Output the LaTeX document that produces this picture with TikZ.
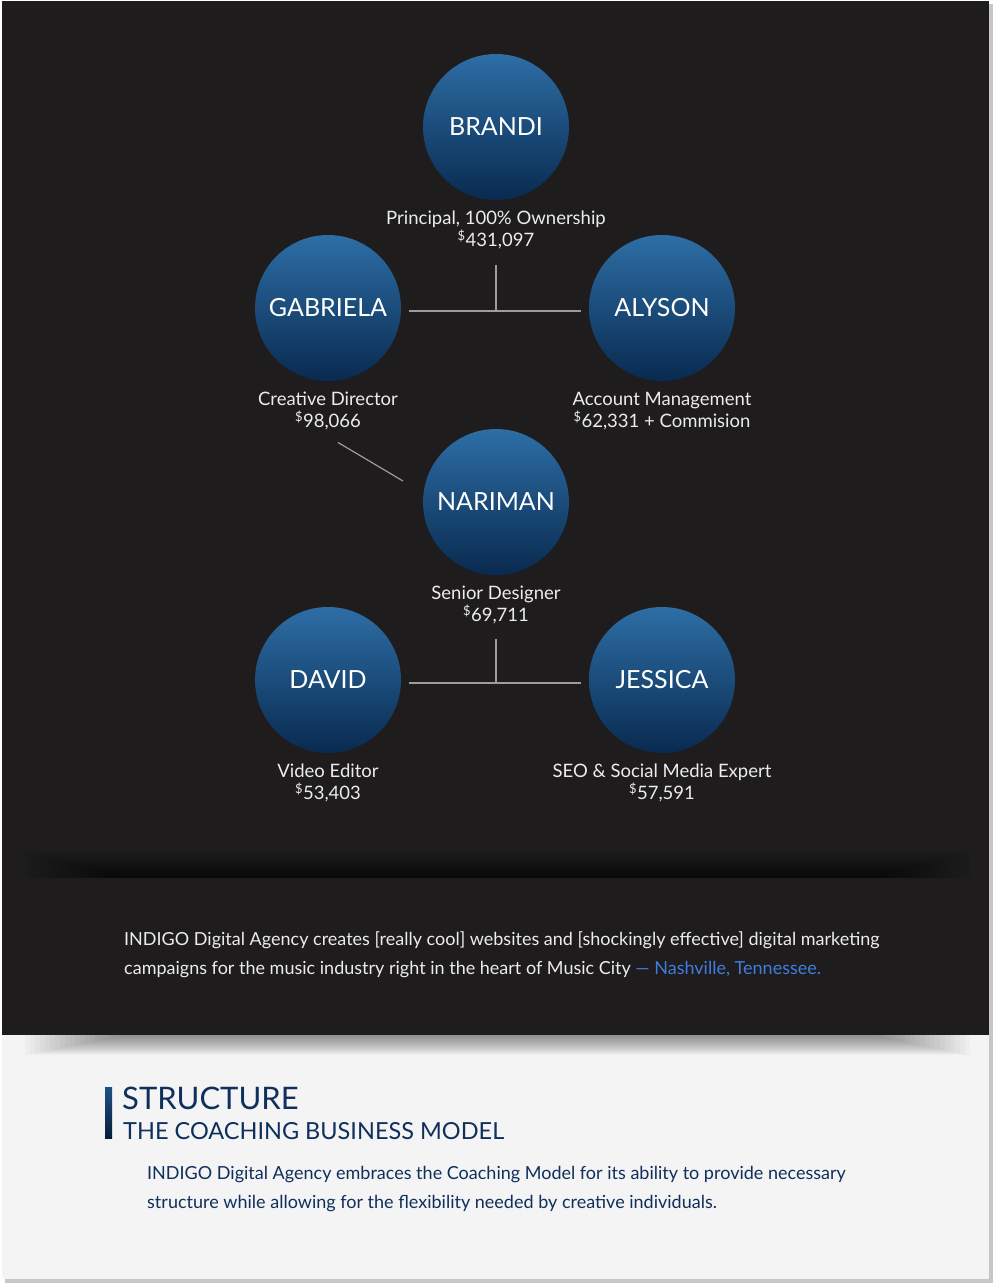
\documentclass[tikz,border=0pt]{standalone}
\usepackage{fontspec}
\setmainfont{Lato}
\usepackage{xcolor}
\usepackage{tikz}
\usetikzlibrary{positioning, calc, shadings}
\definecolor{IndigoDark}{HTML}{1E1C1D}
\definecolor{IndigoTop}{HTML}{2D6EA5}
\definecolor{IndigoMid}{HTML}{1F5B91}
\definecolor{IndigoBottom}{HTML}{092A50}
\definecolor{IndigoNavy}{HTML}{0F2F5C}
\definecolor{IndigoLink}{HTML}{3F7EE0}
\definecolor{IndigoPaper}{HTML}{F4F4F4}
\definecolor{IndigoLine}{HTML}{9C9C9C}
\definecolor{IndigoText}{HTML}{ECECEC}

\begin{document}
\begin{tikzpicture}[x=1pt, y=-1pt, every node/.style={font=\fontsize{18.5}{22}\selectfont}]
      \tikzset{
        person/.style={circle, on grid, minimum size=146pt, inner sep=0pt, outer sep=0pt, top color=IndigoTop, middle color=IndigoMid, bottom color=IndigoBottom, text=white, font=\fontsize{25}{25}\selectfont},
        role/.style={align=center, inner sep=0pt, text=IndigoText},
        link/.style={draw=IndigoLine, line width=1.2pt},
        para/.style={align=left, inner sep=0pt, anchor=north west}
      }
      \newcommand{\pay}[1]{\textsuperscript{\$}#1}

      % Page
      \useasboundingbox (0,0) rectangle (995,1285);
      \fill[white] (0,0) rectangle (995,1285);
      \fill[black!22] (5,4) rectangle (993,1283);
      \fill[IndigoPaper] (2,1) rectangle (989,1279);
      \fill[IndigoDark] (2,1) rectangle (989,1035);
      % soft shadows
      \foreach \i in {0,...,19}
        \fill[black, opacity=0.035] (25+\i*5, 852+\i*1.3) rectangle (970-\i*5, 878);
      \foreach \i in {0,...,19}
        \fill[black, opacity=0.022] (25+\i*5, 1035) rectangle (970-\i*5, 1055-\i*1);

      % Nodes
      \node[person] (brandi) at (496,127) {BRANDI};
      \node[person, below left=181pt and 168pt of brandi] (gabriela) {GABRIELA};
      \node[person, right=334pt of gabriela] (alyson) {ALYSON};
      \node[person, below=375pt of brandi] (nariman) {NARIMAN};
      \node[person, below left=178pt and 168pt of nariman] (david) {DAVID};
      \node[person, right=334pt of david] (jessica) {JESSICA};

      \node[role, below=11pt of brandi] (brandi-role) {Principal, 100\% Ownership\\\pay{431,097}};
      \node[role, below=11pt of gabriela] (gabriela-role) {Creative Director\\\pay{98,066}};
      \node[role, below=11pt of alyson] (alyson-role) {Account Management\\\pay{62,331} + Commision};
      \node[role, below=11pt of nariman] (nariman-role) {Senior Designer\\\pay{69,711}};
      \node[role, below=11pt of david] (david-role) {Video Editor\\\pay{53,403}};
      \node[role, below=11pt of jessica] (jessica-role) {SEO \& Social Media Expert\\\pay{57,591}};

      % Connections
      \coordinate (top-join) at ($(gabriela)!0.5!(alyson)+(0,3)$);
      \coordinate (bottom-join) at ($(david)!0.5!(jessica)+(0,3)$);
      \draw[link, shorten <=8pt, shorten >=8pt] ([yshift=-3pt]gabriela.east) -- ([yshift=-3pt]alyson.west);
      \draw[link, shorten <=15pt] (brandi-role.south) -- (brandi-role.south |- top-join);
      \draw[link, shorten <=8pt, shorten >=8pt] ([yshift=-3pt]david.east) -- ([yshift=-3pt]jessica.west);
      \draw[link, shorten <=15pt] (nariman-role.south) -- (nariman-role.south |- bottom-join);
      \draw[link] ([shift={(10,12)}]gabriela-role.south) -- ([shift={(-20,-21)}]nariman.west);

      % Text
      \node[para, text=IndigoText, font=\fontsize{18}{29}\selectfont] (intro) at (124,931)
        {INDIGO Digital Agency creates [really cool] websites and [shockingly effective] digital marketing\\
         campaigns for the music industry right in the heart of Music City \textcolor{IndigoLink}{— Nashville, Tennessee.}};
      \node[para, text=IndigoNavy, font=\fontsize{31}{31}\selectfont, anchor=base west] (title) at (122,1109) {STRUCTURE};
      \node[para, text=IndigoNavy, font=\fontsize{23.5}{24}\selectfont, anchor=base west] (subtitle) at (123,1139) {THE COACHING BUSINESS MODEL};
      \shade[top color=IndigoMid!80!IndigoNavy, bottom color=IndigoNavy!60!black] (105,1087) rectangle (112,1138);
      \node[para, text=IndigoNavy, font=\fontsize{18}{29}\selectfont] (summary) at (147,1166)
        {INDIGO Digital Agency embraces the Coaching Model for its ability to provide necessary\\
         structure while allowing for the flexibility needed by creative individuals.};

\end{tikzpicture}
\end{document}
